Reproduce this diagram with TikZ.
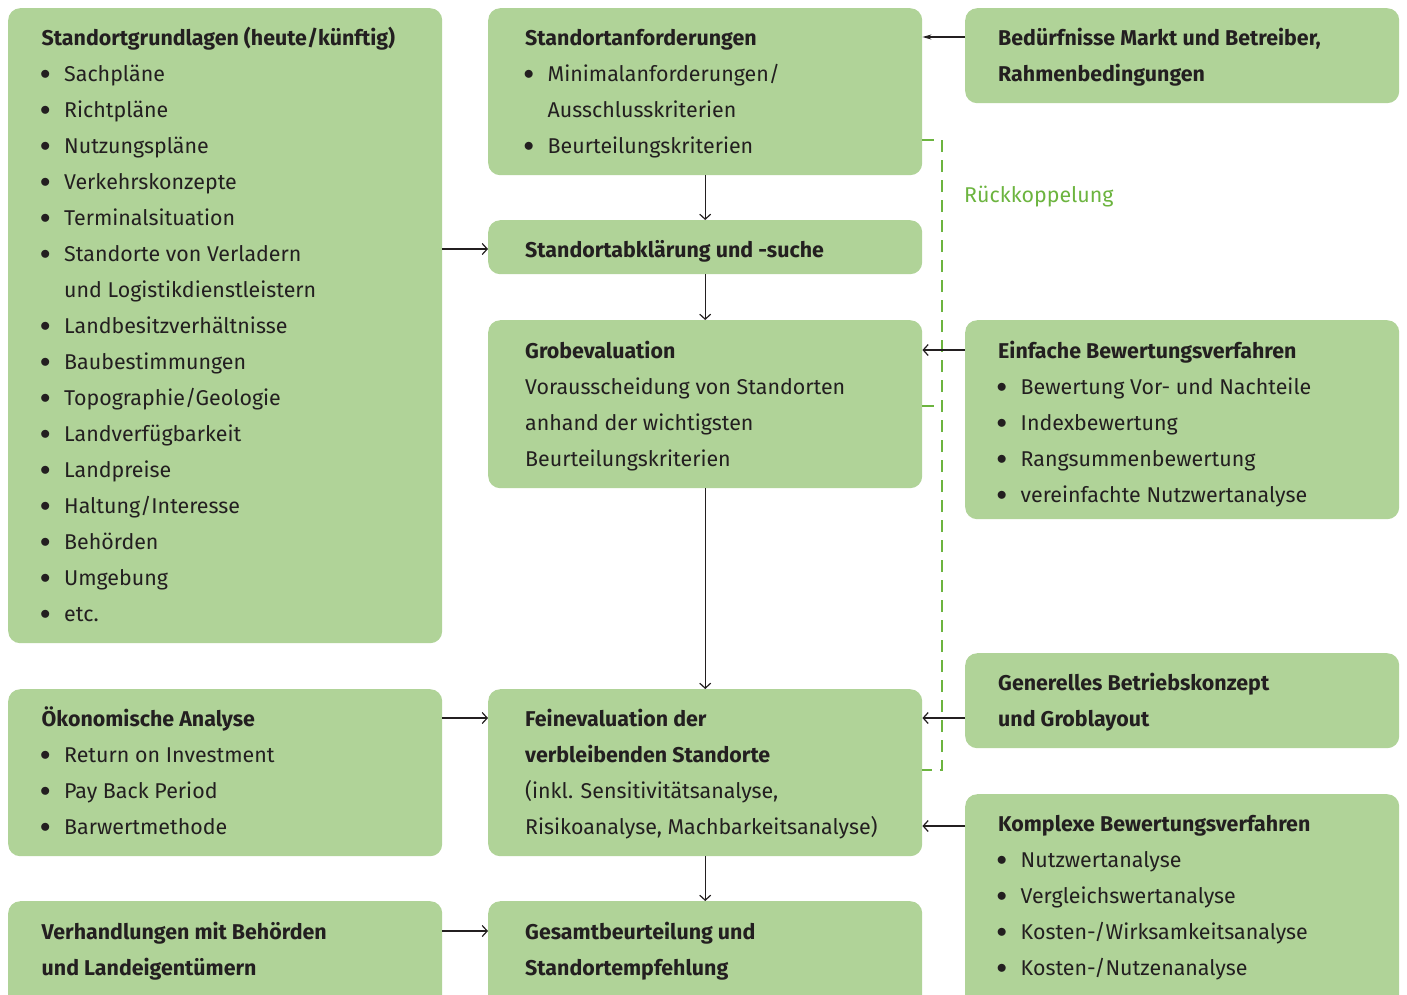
\documentclass[tikz,border=0pt]{standalone}
\usepackage{fontspec}
\setmainfont{Fira Sans}
\usetikzlibrary{arrows.meta}
\definecolor{boxc}{HTML}{B0D398}
\definecolor{txtc}{HTML}{231F20}
\definecolor{fbc}{HTML}{6CB43F}
\newcommand\bitem{\makebox[22.5pt][l]{\hspace{-1.5pt}\raisebox{1.6pt}{$\bullet$}}}
\newcommand\bcont{\hspace*{22.5pt}}
\begin{document}
\begin{tikzpicture}[x=1pt,y=-1pt,
  box/.style={rectangle, rounded corners=12pt, fill=boxc, draw=none, inner sep=0pt, anchor=north west, minimum width=434pt},
  txt/.style={anchor=north west, inner sep=0pt, align=left, text=txtc, font=\fontsize{21.4}{36}\selectfont},
  arr/.style={draw=txtc, line width=1.4pt, -{Straight Barb[length=5pt,width=11pt,line width=1.2pt]}},
  arrs/.style={draw=txtc, line width=1.4pt, -{Stealth[length=9pt,width=5pt]}},
  fb/.style={draw=fbc, line width=2pt, dash pattern=on 12pt off 8pt}
]
\useasboundingbox (0,0) rectangle (1407,994);
\clip (0,0) rectangle (1407,994);
% boxes
\node[box, minimum height=635pt] (A) at (8,8) {};
\node[box, minimum height=167pt] (B) at (488,8) {};
\node[box, minimum height=95pt]  (C) at (965,8) {};
\node[box, minimum height=54pt]  (D) at (488,220) {};
\node[box, minimum height=168pt] (E) at (488,320) {};
\node[box, minimum height=199pt] (F) at (965,320) {};
\node[box, minimum height=95pt]  (G) at (965,653) {};
\node[box, minimum height=167pt] (H) at (8,689) {};
\node[box, minimum height=167pt] (I) at (488,689) {};
\node[box, minimum height=230pt] (J) at (965,794) {};
\node[box, minimum height=130pt] (K) at (8,901) {};
\node[box, minimum height=130pt] (L) at (488,901) {};
% texts
\node[txt] (tA) at (41.5,19.8) {\strut\textbf{Standortgrundlagen (heute/künftig)}\\
\bitem Sachpläne\\ \bitem Richtpläne\\ \bitem Nutzungspläne\\ \bitem Verkehrskonzepte\\
\bitem Terminalsituation\\ \bitem Standorte von Verladern\\ \bcont und Logistikdienstleistern\\
\bitem Landbesitzverhältnisse\\ \bitem Baubestimmungen\\ \bitem Topographie/Geologie\\
\bitem Landverfügbarkeit\\ \bitem Landpreise\\ \bitem Haltung/Interesse\\ \bitem Behörden\\
\bitem Umgebung\\ \bitem etc.};
\node[txt] (tB) at (525,19.8) {\strut\textbf{Standortanforderungen}\\ \bitem Minimalanforderungen/\\ \bcont Ausschlusskriterien\\ \bitem Beurteilungskriterien};
\node[txt] (tC) at (998,19.8) {\strut\textbf{Bedürfnisse Markt und Betreiber,}\\ \textbf{Rahmenbedingungen}};
\node[txt] (tD) at (525,231.8) {\strut\textbf{Standortabklärung und -suche}};
\node[txt] (tE) at (525,332.8) {\strut\textbf{Grobevaluation}\\ Vorausscheidung von Standorten\\ anhand der wichtigsten\\ Beurteilungskriterien};
\node[txt] (tF) at (998,332.8) {\strut\textbf{Einfache Bewertungsverfahren}\\ \bitem Bewertung Vor- und Nachteile\\ \bitem Indexbewertung\\ \bitem Rangsummenbewertung\\ \bitem vereinfachte Nutzwertanalyse};
\node[txt] (tG) at (998,664.8) {\strut\textbf{Generelles Betriebskonzept}\\ \textbf{und Groblayout}};
\node[txt] (tH) at (41.5,700.8) {\strut\textbf{Ökonomische Analyse}\\ \bitem Return on Investment\\ \bitem Pay Back Period\\ \bitem Barwertmethode};
\node[txt] (tI) at (525,700.8) {\strut\textbf{Feinevaluation der}\\ \textbf{verbleibenden Standorte}\\ (inkl. Sensitivitätsanalyse,\\ Risikoanalyse, Machbarkeitsanalyse)};
\node[txt] (tJ) at (998,805.8) {\strut\textbf{Komplexe Bewertungsverfahren}\\ \bitem Nutzwertanalyse\\ \bitem Vergleichswertanalyse\\ \bitem Kosten-/Wirksamkeitsanalyse\\ \bitem Kosten-/Nutzenanalyse};
\node[txt] (tK) at (41.5,913.8) {\strut\textbf{Verhandlungen mit Behörden}\\ \textbf{und Landeigentümern}};
\node[txt] (tL) at (525,913.8) {\strut\textbf{Gesamtbeurteilung und}\\ \textbf{Standortempfehlung}};
\node[txt, text=fbc] (fbl) at (964,176.8) {\strut Rückkoppelung};
% feedback
\coordinate (fbx) at (942,406);
\draw[fb] (B.east |- 0,140) -| (fbx |- I.east |- 0,770) -- (I.east |- 0,770);
\draw[fb] (E.east |- fbx) -- (fbx);
% arrows
\draw[arrs] (C.west |- 0,37) -- (B.east |- 0,37);
\draw[arr] (A.east |- 0,249) -- (D.west |- 0,249);
\draw[arr] (B.south) -- (D.north);
\draw[arr] (D.south) -- (E.north);
\draw[arr] (F.west |- 0,350) -- (E.east |- 0,350);
\draw[arr] (E.south) -- (I.north);
\draw[arr] (H.east |- 0,718) -- (I.west |- 0,718);
\draw[arr] (G.west |- 0,718) -- (I.east |- 0,718);
\draw[arr] (J.west |- 0,826) -- (I.east |- 0,826);
\draw[arr] (I.south) -- (L.north);
\draw[arr] (K.east |- 0,931) -- (L.west |- 0,931);
\end{tikzpicture}
\end{document}
